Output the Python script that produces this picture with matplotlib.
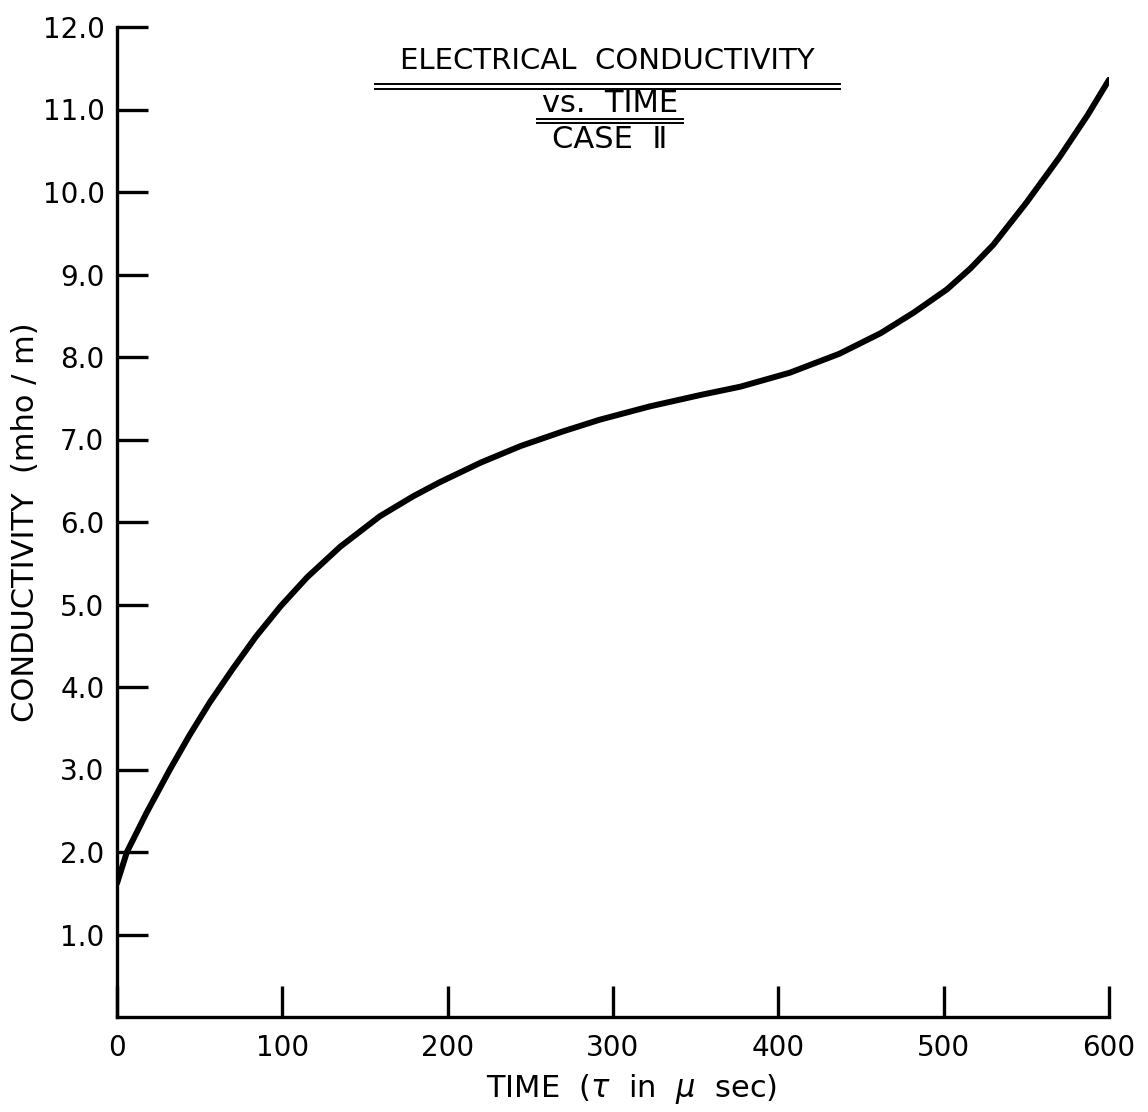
import matplotlib
matplotlib.use('Agg')
import matplotlib.pyplot as plt
from matplotlib.lines import Line2D

# conductivity vs time
time_us = [0, 6, 18, 32, 44, 56, 70, 84, 99, 115, 135, 159, 179, 195, 220, 244,
           270, 292, 322, 353, 377, 407, 437, 462, 482, 502, 516, 530, 550, 570,
           587, 600]
sigma = [1.62, 2.00, 2.48, 3.00, 3.42, 3.81, 4.22, 4.61, 4.98, 5.33, 5.70, 6.07,
         6.31, 6.48, 6.72, 6.92, 7.10, 7.24, 7.40, 7.54, 7.64, 7.81, 8.04, 8.29,
         8.54, 8.82, 9.07, 9.36, 9.87, 10.42, 10.93, 11.36]

xticks = [0, 100, 200, 300, 400, 500, 600]
yticks = [1.0, 2.0, 3.0, 4.0, 5.0, 6.0, 7.0, 8.0, 9.0, 10.0, 11.0, 12.0]

plt.rcParams['font.family'] = ['DejaVu Sans']

W, H = 1148, 1112
fig = plt.figure(figsize=(W / 100, H / 100), dpi=100)
ax = fig.add_axes([117 / W, 95 / H, 992 / W, 990 / H])

ax.plot(time_us, sigma, color='black', lw=4.3, solid_capstyle='round',
        solid_joinstyle='round')

ax.set_xlim(0, 600)
ax.set_ylim(0, 12)
ax.spines['top'].set_visible(False)
ax.spines['right'].set_visible(False)
for s in ('left', 'bottom'):
    ax.spines[s].set_linewidth(2.4)

ax.set_xticks(xticks)
ax.set_xticklabels([str(t) for t in xticks])
ax.set_yticks(yticks)
ax.set_yticklabels(['%.1f' % t for t in yticks])
ax.tick_params(axis='both', direction='in', length=22, width=2.4, labelsize=20)
ax.tick_params(axis='y', pad=9)
ax.tick_params(axis='x', pad=12)

ax.set_xlabel('TIME  ($\\tau$  in  $\\mu$  sec)', fontsize=22)
ax.xaxis.set_label_coords(0.519, -0.056)
ax.set_ylabel('CONDUCTIVITY  (mho / m)', fontsize=22)
ax.yaxis.set_label_coords(-0.078, 0.5)

# title block with double underlines
fig.text(607 / W, 1 - 61 / H, 'ELECTRICAL  CONDUCTIVITY', ha='center',
         va='center', fontsize=21)
fig.text(610 / W, 1 - 104 / H, 'vs.  TIME', ha='center', va='center',
         fontsize=22)
fig.text(610 / W, 1 - 139 / H, 'CASE  \u2161', ha='center', va='center',
         fontsize=22)
for y, x0, x1 in [(84, 375, 840), (89, 375, 840), (119, 537, 683), (123, 537, 683)]:
    fig.add_artist(Line2D([x0 / W, x1 / W], [1 - y / H, 1 - y / H],
                          color='black', lw=1.4))

fig.savefig('out.png', dpi=100)
